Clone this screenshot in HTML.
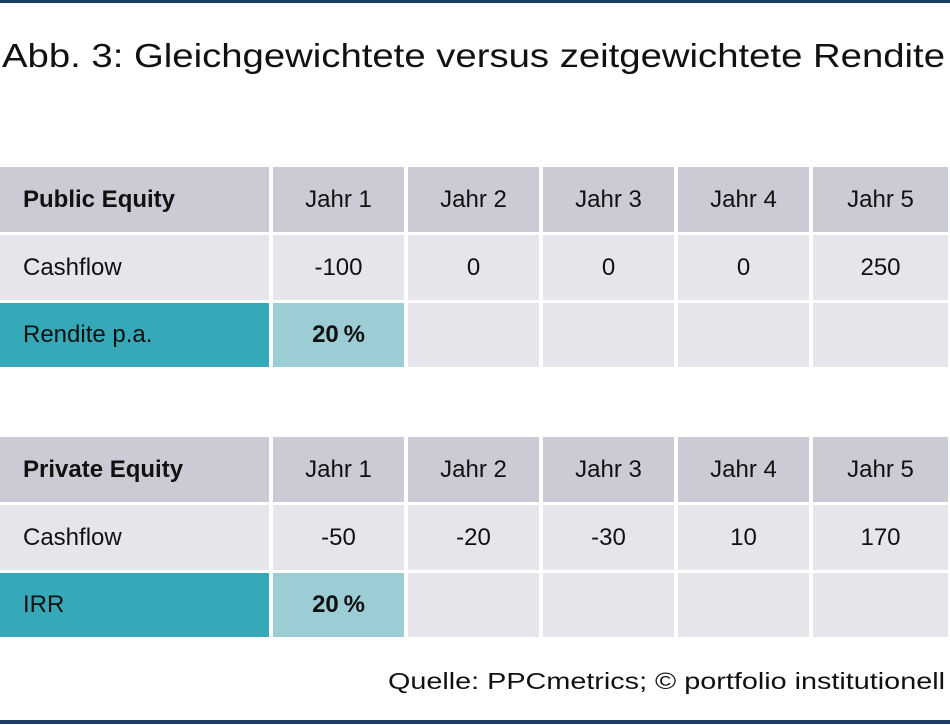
<!DOCTYPE html>
<html><head><meta charset="utf-8"><style>
body{margin:0;width:950px;height:725px;background:#fff;position:relative;overflow:hidden;font-family:"Liberation Sans",sans-serif;color:#111}
.c{position:absolute;display:flex;align-items:center;justify-content:center;font-size:24px}
.l{justify-content:flex-start;padding-left:23px;box-sizing:border-box}
.h{background:#cbcbd5}.b{background:#e6e5eb}.t{background:#35a9b8}.lt{background:#9dcdd4}
.bold{font-weight:bold}
.fit{position:absolute;white-space:nowrap;transform-origin:0 0}
</style></head><body>
<div style="position:absolute;left:0;top:0;width:950px;height:3px;background:#1c3f63"></div>
<div id="title" class="fit" style="left:2px;top:37px;font-size:33px">Abb. 3: Gleichgewichtete versus zeitgewichtete Rendite</div>
<div id="tables"></div>
<div id="src" class="fit" style="left:388px;top:668px;font-size:23px">Quelle: PPCmetrics; © portfolio institutionell</div>
<div style="position:absolute;left:0;top:720px;width:950px;height:4px;background:#1c3f63"></div>
<script>
const cols=[[0,269],[273,404],[408,539],[543,674],[678,809],[813,948]];
const years=["Jahr 1","Jahr 2","Jahr 3","Jahr 4","Jahr 5"];
const publicCash=["-100","0","0","0","250"];
const privateCash=["-50","-20","-30","10","170"];
const tables=[
 {top:167,title:"Public Equity",cash:publicCash,label:"Rendite p.a.",ret:"20%",name:"public-equity"},
 {top:437,title:"Private Equity",cash:privateCash,label:"IRR",ret:"20%",name:"private-equity"}];
const root=document.getElementById('tables');
function cell(x0,x1,y,h,cls,txt,name){
 const d=document.createElement('div');
 d.className='c '+cls;
 d.style.left=x0+'px';d.style.width=(x1-x0)+'px';d.style.top=y+'px';d.style.height=h+'px';
 d.textContent=txt;
 
 
 root.appendChild(d);
}
tables.forEach(t=>{
 const rows=[t.top,t.top+68,t.top+136];
 cell(cols[0][0],cols[0][1],rows[0],65,'h l bold',t.title,t.name+'-header');
 years.forEach((y,i)=>cell(cols[i+1][0],cols[i+1][1],rows[0],65,'h',y,t.name+'-year-'+(i+1)));
 cell(cols[0][0],cols[0][1],rows[1],65,'b l','Cashflow',t.name+'-cashflow-label');
 t.cash.forEach((v,i)=>cell(cols[i+1][0],cols[i+1][1],rows[1],65,'b',v,t.name+'-cashflow-'+(i+1)));
 cell(cols[0][0],cols[0][1],rows[2],64,'t l',t.label,t.name+'-return-label');
 cell(cols[1][0],cols[1][1],rows[2],64,'lt bold',t.ret.replace('%','\u2009%'),t.name+'-return-value');
 for(let i=2;i<6;i++)cell(cols[i][0],cols[i][1],rows[2],64,'b','',t.name+'-empty-'+i);
});
function fit(id,w){const e=document.getElementById(id);const s=w/e.getBoundingClientRect().width;e.style.transform='scaleX('+s+')';}
fit('title',943);fit('src',557);
</script>
</body></html>
